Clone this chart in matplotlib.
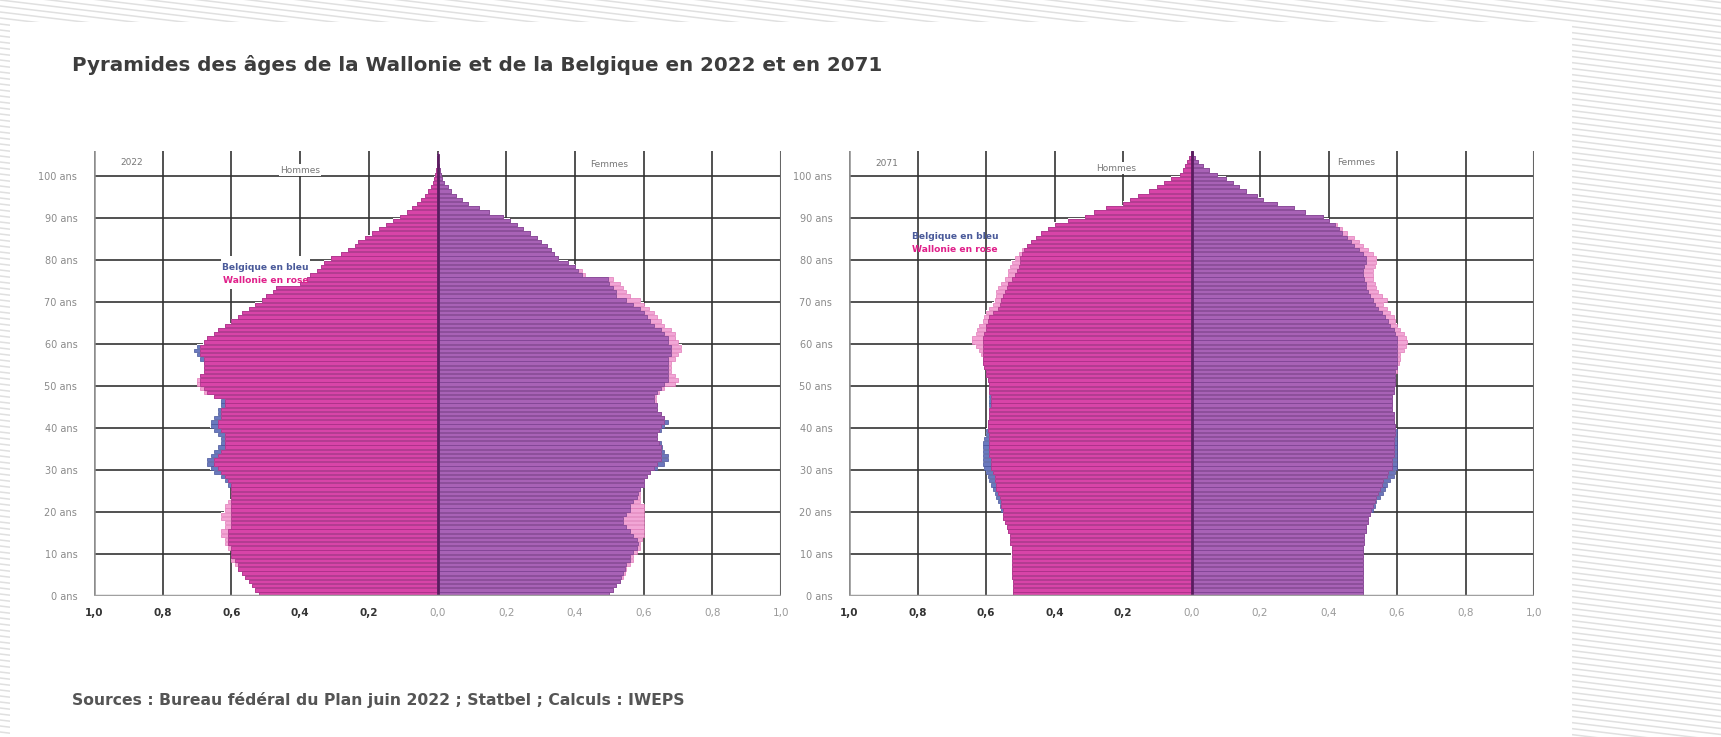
import numpy as np
import matplotlib.pyplot as plt
from matplotlib import font_manager
from matplotlib.patches import Rectangle

# parts per hundred of the population, by single year of age (0 .. 105)
ages = np.arange(106)

be_h_2022 = [.52, .53, .54, .55, .56, .57, .58, .58, .59, .60,
             .60, .60, .61, .61, .61, .61, .60, .60, .60, .60,
             .60, .60, .60, .60, .60, .60, .61, .62, .63, .65,
             .66, .67, .67, .66, .65, .64, .63, .63, .64, .65,
             .66, .66, .65, .64, .64, .63, .63, .65, .67, .68,
             .69, .69, .69, .68, .68, .68, .69, .70, .71, .70,
             .68, .67, .65, .64, .62, .60, .58, .57, .55, .53,
             .51, .50, .48, .47, .40, .38, .37, .35, .34, .33,
             .31, .28, .26, .24, .23, .21, .19, .17, .15, .13,
             .11, .09, .075, .06, .047, .036, .027, .019, .013, .009,
             .006, .004, .002, .001, .0005, 0]
wa_h_2022 = [.52, .53, .54, .55, .56, .57, .58, .59, .60, .60,
             .60, .61, .62, .62, .63, .63, .62, .62, .63, .63,
             .62, .62, .61, .60, .60, .60, .60, .61, .62, .63,
             .64, .65, .65, .64, .63, .62, .62, .62, .62, .63,
             .64, .64, .63, .63, .63, .62, .62, .65, .68, .69,
             .70, .70, .69, .68, .68, .68, .68, .69, .69, .69,
             .68, .67, .65, .64, .62, .60, .58, .57, .55, .53,
             .51, .50, .48, .47, .40, .38, .37, .35, .34, .33,
             .31, .28, .26, .24, .23, .21, .19, .17, .15, .13,
             .11, .09, .075, .06, .047, .036, .027, .019, .013, .009,
             .006, .004, .002, .001, .0005, 0]
be_f_2022 = [.50, .51, .52, .53, .535, .54, .545, .55, .56, .56,
             .57, .58, .585, .58, .57, .56, .55, .54, .54, .55,
             .56, .56, .57, .58, .585, .59, .60, .60, .61, .62,
             .64, .66, .67, .67, .66, .655, .65, .64, .64, .65,
             .66, .67, .66, .65, .64, .64, .63, .63, .64, .65,
             .66, .67, .67, .67, .67, .67, .67, .68, .68, .68,
             .67, .67, .66, .65, .63, .62, .61, .60, .59, .57,
             .55, .52, .52, .51, .50, .495, .42, .41, .40, .38,
             .35, .34, .33, .32, .30, .29, .27, .25, .23, .21,
             .19, .15, .12, .09, .07, .055, .04, .03, .02, .014,
             .009, .006, .004, .002, .001, 0]
wa_f_2022 = [.50, .51, .52, .53, .54, .545, .55, .56, .57, .57,
             .58, .59, .59, .595, .60, .60, .60, .60, .60, .60,
             .60, .60, .59, .59, .59, .59, .60, .60, .61, .62,
             .63, .64, .65, .65, .65, .65, .645, .64, .64, .645,
             .65, .66, .66, .65, .64, .64, .635, .635, .645, .66,
             .69, .70, .69, .68, .68, .68, .69, .70, .71, .71,
             .70, .69, .69, .68, .66, .65, .64, .63, .615, .60,
             .59, .56, .55, .54, .53, .51, .43, .42, .40, .38,
             .35, .34, .33, .32, .30, .29, .27, .25, .23, .21,
             .19, .15, .12, .09, .07, .055, .04, .03, .02, .014,
             .009, .006, .004, .002, .001, 0]

be_h_2071 = [.52, .52, .52, .52, .525, .525, .525, .525, .525, .525,
             .525, .525, .53, .53, .53, .535, .54, .545, .55, .55,
             .555, .56, .565, .57, .575, .58, .585, .59, .595, .60,
             .605, .61, .61, .61, .61, .61, .61, .605, .60, .60,
             .595, .595, .59, .59, .59, .59, .59, .59, .59, .59,
             .59, .595, .60, .60, .605, .61, .61, .61, .61, .61,
             .61, .61, .605, .60, .60, .595, .59, .58, .565, .56,
             .555, .55, .545, .54, .535, .525, .515, .51, .505, .50,
             .50, .495, .49, .48, .47, .455, .44, .42, .40, .36,
             .31, .285, .25, .20, .18, .155, .125, .10, .08, .06,
             .034, .025, .018, .012, .006, .002]
wa_h_2071 = [.52, .52, .52, .52, .525, .525, .525, .525, .525, .525,
             .525, .525, .53, .53, .53, .535, .54, .545, .55, .55,
             .55, .555, .555, .56, .565, .57, .57, .575, .575, .58,
             .585, .585, .585, .59, .59, .59, .59, .59, .59, .595,
             .595, .595, .59, .59, .59, .585, .585, .585, .59, .59,
             .59, .595, .60, .60, .605, .61, .61, .615, .62, .63,
             .64, .64, .63, .625, .62, .61, .605, .60, .59, .58,
             .575, .57, .57, .565, .555, .545, .535, .535, .53, .525,
             .515, .505, .495, .48, .47, .455, .44, .42, .40, .36,
             .31, .285, .25, .20, .18, .155, .125, .10, .08, .06,
             .034, .025, .018, .012, .006, .002]
be_f_2071 = [.50, .50, .50, .50, .50, .50, .50, .50, .50, .50,
             .50, .50, .505, .505, .505, .51, .51, .515, .515, .52,
             .53, .535, .54, .55, .56, .565, .57, .58, .59, .595,
             .60, .60, .60, .60, .60, .60, .60, .60, .60, .60,
             .595, .59, .59, .59, .585, .585, .585, .585, .59, .59,
             .595, .595, .595, .595, .60, .60, .60, .60, .60, .60,
             .60, .60, .595, .59, .58, .575, .565, .555, .545, .535,
             .53, .52, .515, .51, .51, .505, .50, .50, .505, .51,
             .51, .50, .49, .475, .465, .455, .44, .43, .42, .40,
             .385, .33, .30, .25, .21, .19, .16, .14, .12, .10,
             .073, .05, .034, .02, .01, .003]
wa_f_2071 = [.50, .50, .50, .50, .50, .50, .50, .50, .50, .50,
             .50, .50, .505, .505, .505, .51, .51, .515, .515, .52,
             .525, .53, .535, .54, .545, .55, .555, .56, .57, .575,
             .585, .585, .585, .59, .59, .59, .59, .59, .595, .595,
             .595, .59, .59, .59, .585, .585, .585, .585, .59, .59,
             .595, .595, .595, .60, .60, .605, .61, .61, .62, .625,
             .63, .625, .62, .61, .60, .595, .59, .58, .57, .56,
             .57, .555, .545, .54, .535, .53, .53, .53, .535, .54,
             .54, .53, .515, .50, .49, .475, .455, .44, .425, .40,
             .385, .33, .30, .25, .21, .19, .16, .14, .12, .10,
             .073, .05, .034, .02, .01, .003]

x_ticks = [-1, -0.8, -0.6, -0.4, -0.2, 0, 0.2, 0.4, 0.6, 0.8, 1]
x_labels = ["1,0", "0,8", "0,6", "0,4", "0,2", "0,0", "0,2", "0,4", "0,6", "0,8", "1,0"]
y_ticks = list(range(0, 101, 10))
y_labels = [f"{a} ans" for a in y_ticks]

# narrow font if there is one
names = {f.name for f in font_manager.fontManager.ttflist}
narrow = "Liberation Sans Narrow" if "Liberation Sans Narrow" in names else "DejaVu Sans"
plt.rcParams["font.family"] = [narrow, "DejaVu Sans"]

# colours: (Belgique seule, Wallonie seule, les deux), plus bar edges
MEN = ("#6a79bf", "#f4a3d4", "#d844a8")
MEN_EDGE = ("#45549a", "#e07ab8", "#a52c84")
WOMEN = ("#6c76bd", "#f2a6d6", "#a862b6")
WOMEN_EDGE = ("#4a5296", "#e07ab8", "#7a4190")

W, H = 1721, 737
fig = plt.figure(figsize=(W / 100, H / 100), dpi=100)

# hatched page background + white panel
bg = fig.add_axes([0, 0, 1, 1], zorder=-10)
bg.set_xlim(0, W)
bg.set_ylim(H, 0)
bg.axis("off")
for c in range(-300, H + 20, 6):
    bg.plot([0, W], [c, c + 0.12 * W], color="#e0e0e0", lw=1.1)
bg.add_patch(Rectangle((10, 22), 1562, H - 22, facecolor="white", edgecolor="none", zorder=3))


def half(ax, be, wa, sign, cols, edges):
    be = np.array(be)
    wa = np.array(wa)
    kw = dict(height=0.8, align="edge", linewidth=0.5)
    ax.barh(ages, sign * np.maximum(be, wa) * 1.002, color="white", height=1, align="edge", lw=0, zorder=2)
    ax.barh(ages, sign * be, color=cols[0], edgecolor=edges[0], zorder=3, **kw)
    ax.barh(ages, sign * wa, color=cols[1], edgecolor=edges[1], zorder=3, **kw)
    ax.barh(ages, sign * np.minimum(be, wa), color=cols[2], edgecolor=edges[2], zorder=4, **kw)


def pyramid(rect, be_h, wa_h, be_f, wa_f, year, hom_x, fem_x, leg_x, leg_y):
    ax = fig.add_axes(rect)
    ax.set_xlim(-1, 1)
    ax.set_ylim(0, 106)
    for s in ax.spines.values():
        s.set_visible(False)
    ax.tick_params(length=0)

    for y in y_ticks[1:]:
        ax.axhline(y, color="#333333", lw=1.2, zorder=1)
    for x in x_ticks[1:-1]:
        ax.axvline(x, color="#333333", lw=1.2, zorder=1)
    ax.axvline(-1, color="#8c8c8c", lw=1.8, zorder=1)
    ax.axvline(1, color="#666666", lw=1.5, zorder=1)
    ax.axhline(0, color="#a0a0a0", lw=2.5, zorder=6)

    half(ax, be_h, wa_h, -1, MEN, MEN_EDGE)
    half(ax, be_f, wa_f, 1, WOMEN, WOMEN_EDGE)

    top = max(np.nonzero(np.array(be_h) + np.array(be_f))[0]) + 1
    ax.plot([0, 0], [0, top], color="#5a1d60", lw=2, zorder=5)

    ax.set_xticks(x_ticks)
    ax.set_xticklabels(x_labels)
    ax.set_yticks(y_ticks)
    ax.set_yticklabels(y_labels, fontsize=7, color="#8a8a8a")
    ax.tick_params(axis="x", pad=9)
    ax.tick_params(axis="y", pad=12)
    for t, v in zip(ax.get_xticklabels(), x_ticks):
        t.set_fontsize(7.5)
        if v < 0:
            t.set_color("#333333")
            t.set_fontweight("bold")
        else:
            t.set_color("#9a9a9a")

    ax.text(year[0], year[1], year[2], fontsize=6.5, color="#777777", ha="center", va="center")
    ax.text(hom_x[0], hom_x[1], "Hommes", fontsize=6.5, color="#777777", ha="center", va="center",
            bbox=dict(facecolor="white", edgecolor="none", pad=1), zorder=7)
    ax.text(fem_x[0], fem_x[1], "Femmes", fontsize=6.5, color="#777777", ha="center", va="center",
            bbox=dict(facecolor="white", edgecolor="none", pad=1), zorder=7)
    ax.text(leg_x, leg_y + 1.5, "Belgique en bleu", fontsize=6.6, color="#4a5a9a", fontweight="bold",
            ha="center", va="center", zorder=7)
    ax.text(leg_x, leg_y - 1.5, "Wallonie en rose", fontsize=6.6, color="#e0208a", fontweight="bold",
            ha="center", va="center", zorder=7)
    return ax


bottom = (H - 595.7) / H
height = 445 / H
ax1 = pyramid([94 / W, bottom, 687 / W, height], be_h_2022, wa_h_2022, be_f_2022, wa_f_2022,
              (-0.89, 103.3, "2022"), (-0.40, 101.4), (0.50, 102.6), -0.50, 76.6)
# white box behind the 2022 legend, it breaks the 80 ans line
ax1.add_patch(Rectangle((-0.63, 73.0), 0.26, 8.0, facecolor="white", edgecolor="none", zorder=2.5))
ax2 = pyramid([849 / W, bottom, 685 / W, height], be_h_2071, wa_h_2071, be_f_2071, wa_f_2071,
              (-0.89, 103.0, "2071"), (-0.22, 101.8), (0.48, 103.2), -0.69, 84.0)

title = fig.text(72 / W, 1 - 65 / H, "Pyramides des âges de la Wallonie et de la Belgique en 2022 et en 2071",
                 fontsize=17, fontweight="bold", color="#3d3d3d", ha="left", va="center")
src = fig.text(72 / W, 1 - 700 / H, "Sources : Bureau fédéral du Plan juin 2022 ; Statbel ; Calculs : IWEPS",
               fontsize=12.5, fontweight="bold", color="#555555", ha="left", va="center")

# fit the two lines of text to their widths in the picture
r = fig.canvas.get_renderer()
for t, target in ((title, 812), (src, 614)):
    w = t.get_window_extent(renderer=r).width
    t.set_fontsize(t.get_fontsize() * target / w)

fig.savefig("out.png", dpi=100)
